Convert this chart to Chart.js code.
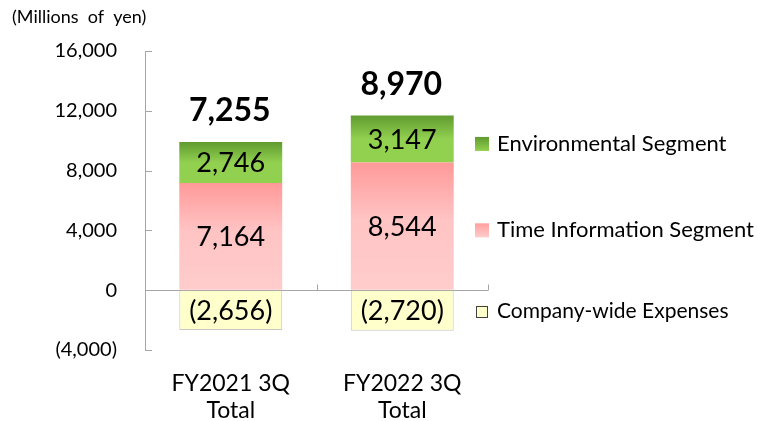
<!DOCTYPE html>
<html>
<head>
<meta charset="utf-8">
<script src="https://cdn.jsdelivr.net/npm/chart.js@4.4.1/dist/chart.umd.min.js"></script>
<style>
  html, body { margin: 0; padding: 0; background: #fff; }
  #wrap { width: 758px; height: 421px; }
</style>
</head>
<body>
<div id="wrap"><canvas id="chart" width="758" height="421"></canvas></div>
<script>
// values (millions of yen)
const categories = [['FY2021 3Q', 'Total'], ['FY2022 3Q', 'Total']];
const timeInfo = [7164, 8544];
const environmental = [2746, 3147];
const companyWide = [-2656, -2720];
const totals = [7255, 8970];
const yMin = -4000;
const yMax = 16000;
const yStep = 4000;
// \u200C keeps Lato from joining "ti" into a ligature
const legendNames = ['Environmental Segment', 'Time Informa\u200Ction Segment', 'Company-wide Expenses'];

const FONT = 'Lato, "Noto Sans", sans-serif';
const AXIS_GREY = '#a6a6a6';

function fmt(v) {
    const s = Math.abs(v).toLocaleString('en-US');
    return v < 0 ? '(' + s + ')' : s;
}

// vertical gradient between two values on the y scale
function vGrad(chart, from, to, stops) {
    const y = chart.scales.y;
    if (!y || !chart.chartArea) return stops[stops.length - 1][1];
    const g = chart.ctx.createLinearGradient(0, y.getPixelForValue(to), 0, y.getPixelForValue(from));
    stops.forEach(s => g.addColorStop(s[0], s[1]));
    return g;
}

const pinkStops = [[0, '#ff9999'], [0.45, '#ffc4c4'], [1, '#ffcccc']];
const greenStops = [[0, '#5f9b2f'], [0.5, '#92d050'], [1, '#92d050']];

// inward tick marks, category separators and zero line marks
const axisMarks = {
    id: 'axisMarks',
    afterDraw(chart) {
        const ctx = chart.ctx;
        const y = chart.scales.y;
        const x = chart.scales.x;
        const left = chart.chartArea.left;
        ctx.save();
        ctx.strokeStyle = AXIS_GREY;
        ctx.lineWidth = 1;
        ctx.beginPath();
        y.ticks.forEach(t => {
            const py = Math.round(y.getPixelForValue(t.value)) + 0.5;
            ctx.moveTo(left, py);
            ctx.lineTo(left + 7, py);
        });
        const zy = Math.round(y.getPixelForValue(0)) + 0.5;
        const half = (x.getPixelForValue(1) - x.getPixelForValue(0)) / 2;
        for (let i = 0; i < categories.length; i++) {
            const px = Math.round(x.getPixelForValue(i) + half) + 0.5;
            ctx.moveTo(px, zy);
            ctx.lineTo(px, zy - 6);
        }
        ctx.stroke();
        ctx.restore();
    }
};

// value labels, totals, side legend and unit caption
const annotations = {
    id: 'annotations',
    afterDatasetsDraw(chart) {
        const ctx = chart.ctx;
        const y = chart.scales.y;
        ctx.save();
        ctx.fillStyle = '#000';
        ctx.textAlign = 'center';
        ctx.textBaseline = 'middle';
        ctx.font = '27px ' + FONT;
        chart.data.datasets.forEach((ds, di) => {
            const meta = chart.getDatasetMeta(di);
            meta.data.forEach((el, i) => {
                ctx.fillText(fmt(ds.data[i]), el.x, (el.y + el.base) / 2 + 1);
            });
        });

        // totals above the stacks
        ctx.font = 'bold 32px ' + FONT;
        const envMeta = chart.getDatasetMeta(1);
        envMeta.data.forEach((el, i) => {
            ctx.fillText(fmt(totals[i]), el.x - 1, el.y - 31);
        });

        // legend beside the last bar's segments
        const last = categories.length - 1;
        const rows = [
            {name: legendNames[0], v: timeInfo[last] + environmental[last] / 2, box: 14, shift: 5, size: 22},
            {name: legendNames[1], v: timeInfo[last] / 2, box: 14, shift: 4, size: 22},
            {name: legendNames[2], v: companyWide[last] / 2, box: 12, shift: 1, size: 21, stroke: '#404040'}
        ];
        ctx.textAlign = 'left';
        rows.forEach((r, i) => {
            const cy = y.getPixelForValue(r.v) + r.shift;
            const bx = 482 - r.box / 2;
            let fill = '#ffffcc';
            if (i === 0) {
                fill = ctx.createLinearGradient(0, cy - 7, 0, cy + 7);
                fill.addColorStop(0, '#5f9b2f');
                fill.addColorStop(1, '#92d050');
            } else if (i === 1) {
                fill = ctx.createLinearGradient(0, cy - 7, 0, cy + 7);
                fill.addColorStop(0, '#ff9f9f');
                fill.addColorStop(1, '#ffcccc');
            }
            ctx.fillStyle = fill;
            ctx.fillRect(bx, cy - r.box / 2, r.box, r.box);
            if (r.stroke) {
                ctx.strokeStyle = r.stroke;
                ctx.lineWidth = 1;
                ctx.strokeRect(Math.round(bx) + 0.5, Math.round(cy - r.box / 2) + 0.5, r.box - 1, r.box - 1);
            }
            ctx.fillStyle = '#000';
            ctx.font = r.size + 'px ' + FONT;
            ctx.fillText(r.name, 497, cy);
        });

        // unit caption
        ctx.font = '18px ' + FONT;
        ctx.fillText('(Millions  of  yen)', 12, 17);
        ctx.restore();
    }
};

const chart = new Chart(document.getElementById('chart'), {
    type: 'bar',
    data: {
        labels: categories,
        datasets: [
            {
                label: legendNames[1],
                data: timeInfo,
                backgroundColor: c => vGrad(c.chart, 0, timeInfo[c.dataIndex], pinkStops)
            },
            {
                label: legendNames[0],
                data: environmental,
                backgroundColor: c => vGrad(c.chart, timeInfo[c.dataIndex], timeInfo[c.dataIndex] + environmental[c.dataIndex], greenStops)
            },
            {
                label: legendNames[2],
                data: companyWide,
                backgroundColor: '#ffffcc',
                borderColor: '#c8c8c8',
                borderWidth: 1
            }
        ]
    },
    options: {
        responsive: false,
        animation: false,
        devicePixelRatio: 1,
        layout: {padding: {top: 51, right: 270, left: 0, bottom: 0}},
        datasets: {
            bar: {categoryPercentage: 1, barPercentage: 0.6}
        },
        plugins: {
            legend: {display: false},
            tooltip: {enabled: false}
        },
        scales: {
            x: {
                stacked: true,
                grid: {display: false, drawTicks: false},
                border: {display: false},
                ticks: {
                    color: '#000',
                    padding: 20,
                    font: {family: FONT, size: 23, lineHeight: '27px'}
                },
                afterFit(scale) { scale.height = 71; }
            },
            y: {
                stacked: true,
                min: yMin,
                max: yMax,
                grid: {
                    drawTicks: false,
                    color: c => (c.tick && c.tick.value === 0) ? AXIS_GREY : 'rgba(0,0,0,0)'
                },
                border: {display: true, color: AXIS_GREY, width: 1},
                ticks: {
                    stepSize: yStep,
                    color: '#000',
                    padding: 28,
                    font: {family: FONT, size: 20},
                    callback: v => fmt(v)
                },
                afterFit(scale) { scale.width = 145; }
            }
        }
    },
    plugins: [axisMarks, annotations]
});
</script>
</body>
</html>
